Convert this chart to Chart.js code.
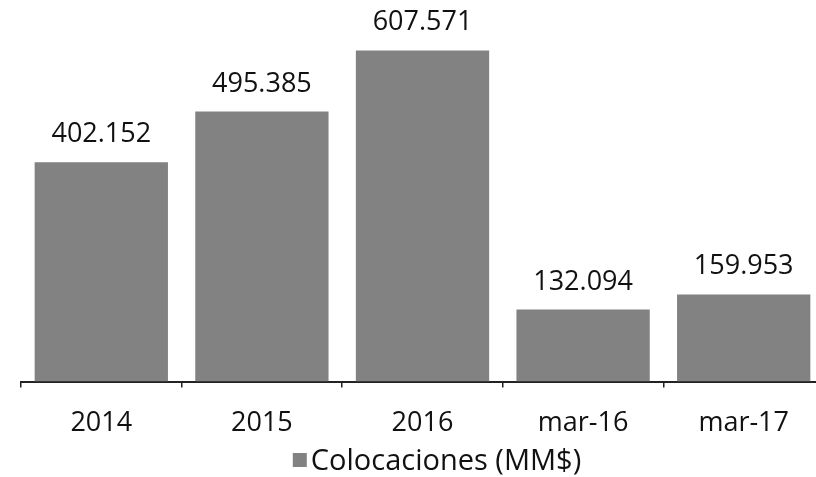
<!DOCTYPE html>
<html>
<head>
<meta charset="utf-8">
<script src="https://cdn.jsdelivr.net/npm/chart.js@4.4.0/dist/chart.umd.min.js"></script>
<style>
  html, body { margin: 0; padding: 0; background: #fff; overflow: hidden; }
  #wrap { width: 824px; height: 477px; }
</style>
</head>
<body>
<div id="wrap"><canvas id="colocacionesChart"></canvas></div>
<script>
const categories = ['2014', '2015', '2016', 'mar-16', 'mar-17'];
const colocaciones = [402.152, 495.385, 607.571, 132.094, 159.953];
const valueLabels = ['402.152', '495.385', '607.571', '132.094', '159.953'];
const seriesName = 'Colocaciones (MM$)';

const FONT = "'Open Sans', sans-serif";
const BAR_COLOR = '#828282';

// values above each bar + legend under the axis
const barValues = {
    id: 'barValues',
    afterDatasetsDraw(chart) {
        const ctx = chart.ctx;
        const meta = chart.getDatasetMeta(0);
        ctx.save();
        ctx.font = '27px ' + FONT;
        ctx.fillStyle = '#111';
        ctx.textAlign = 'center';
        ctx.textBaseline = 'alphabetic';
        meta.data.forEach(function (bar, i) {
            ctx.fillText(valueLabels[i], bar.x, bar.y - 20);
        });

        // legend
        ctx.font = '29px ' + FONT;
        ctx.textAlign = 'left';
        const textW = ctx.measureText(seriesName).width;
        const boxW = 14, gap = 4;
        const startX = 437 - (boxW + gap + textW) / 2;
        ctx.fillStyle = BAR_COLOR;
        ctx.fillRect(startX, 453, boxW, boxW);
        ctx.fillStyle = '#111';
        ctx.fillText(seriesName, startX + boxW + gap, 470);
        ctx.restore();
    }
};

new Chart(document.getElementById('colocacionesChart'), {
    type: 'bar',
    data: {
        labels: categories,
        datasets: [{
            label: seriesName,
            data: colocaciones,
            backgroundColor: BAR_COLOR,
            borderWidth: 0,
            barPercentage: 0.83,
            categoryPercentage: 1.0
        }]
    },
    options: {
        responsive: true,
        maintainAspectRatio: false,
        animation: false,
        layout: { padding: { left: 21, right: 0, top: 0, bottom: 17 } },
        plugins: {
            legend: { display: false },
            tooltip: { enabled: false }
        },
        scales: {
            y: { display: false, min: 0, max: 700 },
            x: {
                offset: true,
                border: { display: true, color: '#222', width: 2 },
                grid: {
                    offset: true,
                    drawOnChartArea: false,
                    drawTicks: true,
                    tickLength: 6,
                    color: '#222',
                    lineWidth: 1.5
                },
                ticks: {
                    color: '#111',
                    font: { family: FONT, size: 27 },
                    padding: 20
                }
            }
        }
    },
    plugins: [barValues]
});
</script>
</body>
</html>
